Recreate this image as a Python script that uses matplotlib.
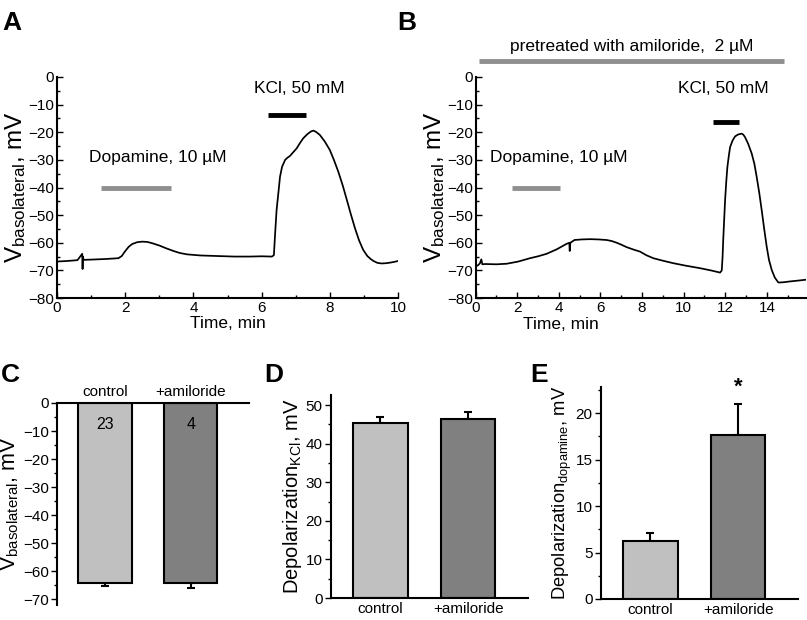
import numpy as np
import matplotlib
matplotlib.use("Agg")
import matplotlib.pyplot as plt
from matplotlib.ticker import MultipleLocator

plt.rcParams['font.family'] = ['Liberation Sans', 'DejaVu Sans']
plt.rcParams['mathtext.default'] = 'regular'

# traces (time in min, voltage in mV)
tA = [0, 0.3, 0.6, 0.74, 0.75, 0.76, 0.78, 1.0, 1.4, 1.8, 1.9, 1.99, 2.1, 2.2,
      2.35, 2.5, 2.65, 2.8, 3.0, 3.2, 3.42, 3.6, 3.81, 4.2, 4.69, 5.2, 5.66, 6.0,
      6.3, 6.36, 6.4, 6.44, 6.5, 6.54, 6.6, 6.69, 6.76, 6.83, 6.93, 7.03, 7.12,
      7.22, 7.35, 7.45, 7.52, 7.6, 7.71, 7.85, 8.0, 8.12, 8.25, 8.38, 8.5, 8.62,
      8.74, 8.86, 8.98, 9.1, 9.2, 9.28, 9.4, 9.52, 9.65, 9.77, 9.9, 10.0]
vA = [-66.8, -66.6, -66.3, -64.0, -69.5, -65.0, -66.2, -66.1, -65.9, -65.6, -64.8,
      -63.2, -61.5, -60.5, -59.8, -59.6, -59.7, -60.2, -61.0, -62.0, -63.0, -63.7,
      -64.2, -64.6, -64.8, -65.0, -65.0, -64.9, -65.0, -64.5, -56.0, -48.1, -41.0,
      -36.1, -32.5, -30.0, -29.2, -28.6, -27.2, -25.8, -24.0, -22.2, -20.6, -19.7,
      -19.4, -19.9, -21.0, -23.3, -26.4, -30.0, -34.3, -39.3, -44.5, -49.8, -54.8,
      -59.2, -62.6, -64.8, -65.9, -66.6, -67.3, -67.5, -67.4, -67.2, -66.9, -66.6]

tB = [0, 0.1, 0.2, 0.27, 0.32, 0.45, 1.0, 1.49, 2.05, 2.61, 3.0, 3.41, 3.65, 3.89,
      4.13, 4.37, 4.5, 4.52, 4.55, 4.75, 5.1, 5.5, 5.9, 6.29, 6.55, 6.78, 7.0, 7.26,
      7.6, 7.9, 8.2, 8.54, 9.0, 9.5, 10.1, 10.78, 11.3, 11.75, 11.83, 11.87, 11.9,
      11.95, 11.99, 12.05, 12.1, 12.17, 12.23, 12.35, 12.47, 12.62, 12.79, 12.87,
      12.95, 13.1, 13.27, 13.4, 13.51, 13.63, 13.75, 13.87, 13.99, 14.1, 14.23,
      14.38, 14.55, 14.8, 15.11, 15.5, 15.85]
vB = [-68.6, -68.2, -67.5, -66.0, -67.8, -67.7, -67.8, -67.6, -66.8, -65.6, -64.9,
      -64.0, -63.2, -62.4, -61.4, -60.4, -60.0, -63.0, -60.0, -59.0, -58.8, -58.7,
      -58.8, -59.0, -59.4, -60.0, -60.7, -61.6, -62.5, -63.2, -64.5, -65.6, -66.5,
      -67.4, -68.3, -69.2, -70.0, -70.8, -70.0, -65.0, -59.0, -51.0, -44.6, -37.5,
      -32.6, -28.5, -25.4, -23.0, -21.5, -20.8, -20.5, -20.9, -21.8, -24.2, -27.7,
      -31.5, -36.2, -41.8, -48.2, -55.0, -61.4, -66.2, -69.8, -72.6, -74.4, -74.3,
      -74.0, -73.7, -73.4]

# bar charts
groups = ['control', '+amiloride']
vbaso = [-64.1, -64.1]
vbaso_err = [1.1, 1.7]
n_cells = ['23', '4']
dep_kcl = [45.4, 46.4]
dep_kcl_err = [1.6, 1.9]
dep_dopa = [6.2, 17.6]
dep_dopa_err = [0.85, 3.4]

light = '#c0c0c0'
dark = '#808080'
bar_gray = '#8f8f8f'

W, H = 807, 620
fig = plt.figure(figsize=(W / 100, H / 100), dpi=100)


def box(l, t, r, b):
    return [l / W, 1 - b / H, (r - l) / W, (b - t) / H]


def trace_axes(ax, t, v, xmax):
    ax.plot(t, v, color='black', lw=1.25)
    ax.set_xlim(0, xmax)
    ax.set_ylim(-80, 0)
    ax.spines['top'].set_visible(False)
    ax.spines['right'].set_visible(False)
    for s in ['left', 'bottom']:
        ax.spines[s].set_linewidth(1.5)
    ax.xaxis.set_major_locator(MultipleLocator(2))
    ax.xaxis.set_minor_locator(MultipleLocator(1))
    ax.yaxis.set_major_locator(MultipleLocator(10))
    ax.yaxis.set_minor_locator(MultipleLocator(5))
    ax.tick_params(which='both', direction='in', labelsize=11, width=1, pad=2)
    ax.tick_params(which='major', length=4)
    ax.tick_params(which='minor', length=2)
    ax.set_ylabel('V$_{basolateral}$, mV', fontsize=17.5, labelpad=0)
    ax.set_xlabel('Time, min', fontsize=12.5, labelpad=1)


# A
axA = fig.add_axes(box(57, 77, 398, 298))
trace_axes(axA, tA, vA, 10)
axA.plot([1.3, 3.35], [-40, -40], color=bar_gray, lw=3.5, solid_capstyle='butt')
axA.text(2.95, -32, 'Dopamine, 10 µM', fontsize=12.5, ha='center', va='bottom')
axA.plot([6.2, 7.3], [-13.8, -13.8], color='black', lw=3.5, solid_capstyle='butt')
axA.text(7.1, -7, 'KCl, 50 mM', fontsize=12.5, ha='center', va='bottom')

# B
axB = fig.add_axes(box(475.7, 77, 806, 298))
trace_axes(axB, tB, vB, 15.88)
axB.xaxis.set_label_coords((561 - 475.7) / (806 - 475.7), -0.085)
axB.plot([1.75, 4.05], [-40, -40], color=bar_gray, lw=3.5, solid_capstyle='butt')
axB.text(4.0, -32, 'Dopamine, 10 µM', fontsize=12.5, ha='center', va='bottom')
axB.plot([11.4, 12.65], [-16.3, -16.3], color='black', lw=3.5, solid_capstyle='butt')
axB.text(11.9, -7, 'KCl, 50 mM', fontsize=12.5, ha='center', va='bottom')
axB.plot([0.16, 14.82], [5.8, 5.8], color=bar_gray, lw=3.5, solid_capstyle='butt',
         clip_on=False)
axB.text(7.5, 8.5, 'pretreated with amiloride,  2 µM', fontsize=12.5, ha='center',
         va='bottom')


def bar_axes(ax, vals, errs, ylim, major, minor, label, lsize, down=False):
    x = np.arange(len(groups))
    ax.bar(x, vals, width=0.62, color=[light, dark], edgecolor='black', lw=1.5,
           zorder=2)
    if down:
        yerr = [errs, [0] * len(errs)]
    else:
        yerr = [[0] * len(errs), errs]
    ax.errorbar(x, vals, yerr=yerr, fmt='none', ecolor='black', elinewidth=1.5,
                capsize=3, capthick=1.5, zorder=1)
    ax.set_xlim(-0.56, 1.68)
    ax.set_ylim(*ylim)
    ax.set_xticks(x)
    ax.set_xticklabels(groups, fontsize=11)
    ax.yaxis.set_major_locator(MultipleLocator(major))
    ax.yaxis.set_minor_locator(MultipleLocator(minor))
    ax.spines['right'].set_visible(False)
    for s in ['left', 'bottom', 'top']:
        ax.spines[s].set_linewidth(1.5)
    ax.tick_params(axis='x', length=0, pad=3)
    ax.tick_params(axis='y', which='both', direction='out', labelsize=11, width=1,
                   pad=2)
    ax.tick_params(axis='y', which='major', length=4)
    ax.tick_params(axis='y', which='minor', length=2)
    ax.set_ylabel(label, fontsize=lsize, labelpad=1)


# C
axC = fig.add_axes(box(57, 403, 249, 605))
bar_axes(axC, vbaso, vbaso_err, (-72, 0), 10, 5, 'V$_{basolateral}$, mV', 15.5,
         down=True)
axC.spines['bottom'].set_visible(False)
axC.xaxis.tick_top()
for xi, n in enumerate(n_cells):
    axC.text(xi, -7.7, n, fontsize=11.5, ha='center', va='center')

# D
axD = fig.add_axes(box(331, 395, 528, 598))
bar_axes(axD, dep_kcl, dep_kcl_err, (0, 52.6), 10, 5, 'Depolarization$_{KCl}$, mV',
         14.5)
axD.spines['top'].set_visible(False)

# E
axE = fig.add_axes(box(601, 387, 798, 599))
bar_axes(axE, dep_dopa, dep_dopa_err, (0, 22.8), 5, 2.5,
         'Depolarization$_{dopamine}$, mV', 13.2)
axE.spines['top'].set_visible(False)
axE.text(1, 21.6, '*', fontsize=16, fontweight='bold', ha='center', va='bottom')

for lab, px, py in [('A', 2, 30), ('B', 397, 30), ('C', 1, 382), ('D', 264, 382),
                    ('E', 530, 382)]:
    fig.text(px / W, 1 - py / H, lab, fontsize=19, fontweight='bold', va='baseline')

fig.savefig('out.png', dpi=100)
